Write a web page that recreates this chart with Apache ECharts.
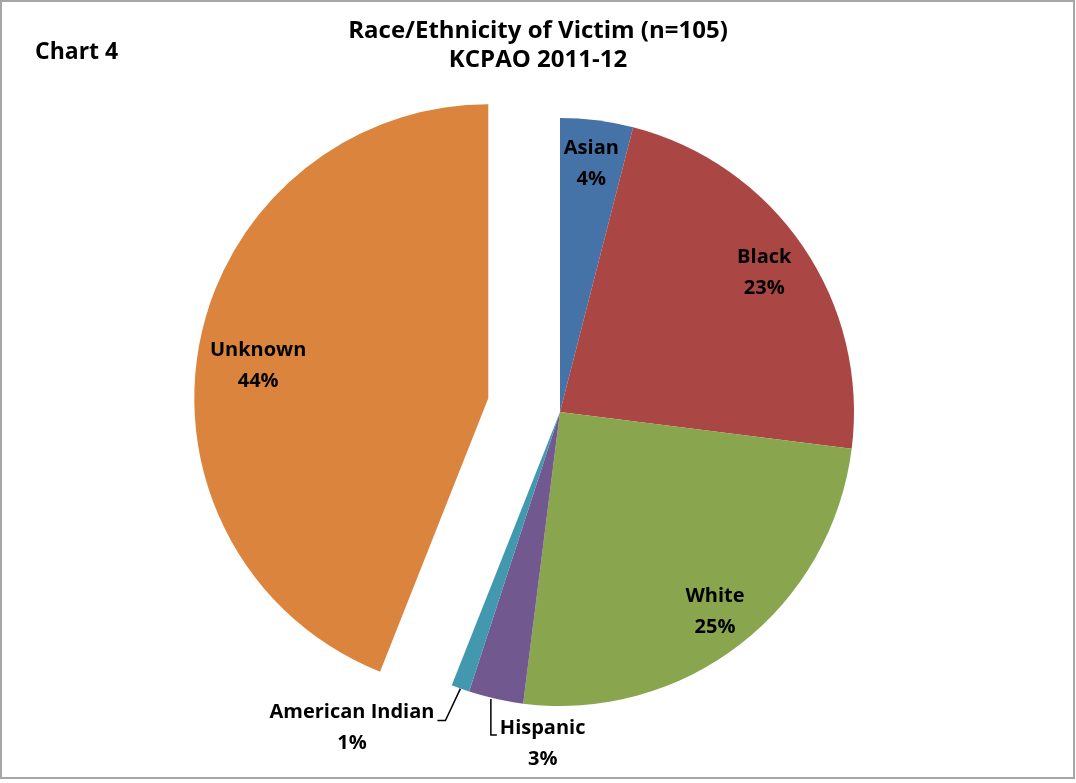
<!DOCTYPE html>
<html>
<head>
<meta charset="utf-8">
<script src="https://cdn.jsdelivr.net/npm/echarts@6/dist/echarts.min.js"></script>
<style>
  html, body { margin: 0; padding: 0; background: #ffffff; }
  #chart { width: 1076px; height: 783px; }
</style>
</head>
<body>
<div id="chart"></div>
<script>
// Victim race/ethnicity, share of cases (percent)
const categories = ['Asian', 'Black', 'White', 'Hispanic', 'American Indian', 'Unknown'];
const shares = [4, 23, 25, 3, 1, 44];

const titleText = 'Race/Ethnicity of Victim (n=105)\nKCPAO 2011-12';
const chartTag = 'Chart 4';

// Styling
const sliceColors = ['#4572A7', '#AA4643', '#89A54E', '#71588F', '#4198AF', '#DB843D'];
const explodedSlice = 'Unknown';
const outsideLabelled = ['Hispanic', 'American Indian'];
const FONT = '"Open Sans", Lato, sans-serif';

// Pie geometry (pixels)
const CX = 560, CY = 412, R = 294, EXPLODE = 73;
const LINE_H = 31;
// radial position of the in-slice labels, as a fraction of the radius,
// plus a small pixel nudge where the label sits off the slice's mid-line
const insideLabelRadius = { Asian: 0.85, Black: 0.84, White: 0.86, Unknown: 0.79 };
const insideLabelNudge = { Unknown: [-2, 11] };

const total = shares.reduce((a, b) => a + b, 0);

function midAngle(i) {
  let before = 0;
  for (let k = 0; k < i; k++) before += shares[k];
  return 2 * Math.PI * (before + shares[i] / 2) / total;
}
function explodeShift(i) {
  const a = midAngle(i);
  const off = categories[i] === explodedSlice ? EXPLODE : 0;
  return [off * Math.sin(a), -off * Math.cos(a)];
}
function polar(i, dist) {
  const a = midAngle(i);
  const s = explodeShift(i);
  return [CX + s[0] + dist * Math.sin(a), CY + s[1] - dist * Math.cos(a)];
}

function placeLabel(p) {
  const i = p.dataIndex;
  const name = categories[i];
  const w = p.labelRect.width;
  if (name === 'American Indian') {
    const p0 = polar(i, R);
    const p1 = [p0[0] - 15, p0[1] + 32];
    const p2 = [p1[0] - 8, p1[1]];
    return {
      x: p2[0] - 3 - w / 2, y: p2[1] - 8 - LINE_H / 2,
      align: 'center', verticalAlign: 'top',
      labelLinePoints: [p0, p1, p2]
    };
  }
  if (name === 'Hispanic') {
    const p0 = polar(i, R);
    const p1 = [p0[0] - 5, p0[1] + 36];
    const p2 = [p1[0] + 6, p1[1]];
    return {
      x: p2[0] + 3 + w / 2, y: p2[1] - 7 - LINE_H / 2,
      align: 'center', verticalAlign: 'top',
      labelLinePoints: [[p0[0] - 5, p0[1]], p1, p2]
    };
  }
  const pos = polar(i, (insideLabelRadius[name] || 0.85) * R);
  const nudge = insideLabelNudge[name] || [0, 0];
  return { x: pos[0] + nudge[0], y: pos[1] + nudge[1], align: 'center', verticalAlign: 'middle' };
}

// Two pie layers built from the same data: the main pie, and the exploded
// slice drawn at its pushed-out centre. Each layer hides the other's slices.
function buildData(exploded) {
  return categories.map((name, i) => {
    const mine = (name === explodedSlice) === exploded;
    const outside = outsideLabelled.indexOf(name) >= 0;
    return {
      name: name,
      value: shares[i],
      itemStyle: { color: sliceColors[i], opacity: mine ? 1 : 0 },
      label: { show: mine, position: outside ? 'outside' : 'inside' },
      labelLine: { show: mine && outside }
    };
  });
}

const shift = explodeShift(categories.indexOf(explodedSlice));

const baseSeries = {
  type: 'pie',
  radius: [0, R],
  startAngle: 90,
  clockwise: true,
  silent: true,
  avoidLabelOverlap: false,
  emphasis: { disabled: true },
  itemStyle: { borderWidth: 0 },
  label: {
    formatter: p => p.name + '\n' + Math.round(p.percent) + '%',
    fontFamily: FONT,
    fontSize: 20,
    fontWeight: 'bold',
    color: '#000',
    lineHeight: LINE_H
  },
  labelLine: { lineStyle: { color: '#000', width: 1.5 } },
  labelLayout: placeLabel
};

const chart = echarts.init(document.getElementById('chart'), null, { renderer: 'canvas' });
chart.setOption({
  animation: false,
  backgroundColor: '#ffffff',
  title: [
    {
      text: titleText,
      left: 'center',
      top: 12,
      textStyle: { fontFamily: FONT, fontSize: 24, fontWeight: 'bold', color: '#000', lineHeight: 29 }
    },
    {
      text: chartTag,
      left: 30,
      top: 32,
      textStyle: { fontFamily: FONT, fontSize: 23, fontWeight: 'bold', color: '#000', lineHeight: 30 }
    }
  ],
  graphic: [{
    type: 'rect',
    silent: true,
    shape: { x: 1, y: 1, width: 1073, height: 777 },
    style: { fill: null, stroke: '#a6a6a6', lineWidth: 2 }
  }],
  series: [
    Object.assign({}, baseSeries, { name: 'main', center: [CX, CY], data: buildData(false) }),
    Object.assign({}, baseSeries, { name: 'exploded', center: [CX + shift[0], CY + shift[1]], data: buildData(true) })
  ]
});
</script>
</body>
</html>
